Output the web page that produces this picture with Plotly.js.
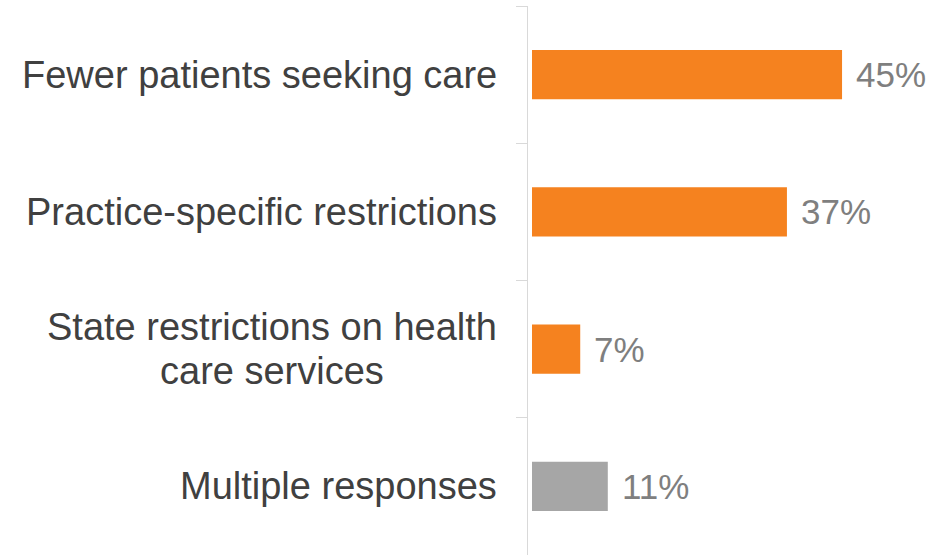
<!DOCTYPE html>
<html>
<head>
<meta charset="utf-8">
<script src="https://cdn.plot.ly/plotly-3.0.1.min.js"></script>
<style>html,body{margin:0;padding:0;background:#fff;}#chart{width:933px;height:556px;}</style>
</head>
<body>
<div id="chart"></div>
<script>
const categories = ["Fewer patients seeking care", "Practice-specific restrictions", "State restrictions on health<br>care services", "Multiple responses"];
const values = [45, 37, 7, 11];
const valueLabels = ["45%", "37%", "7%", "11%"];
const barColors = ["#F5821F", "#F5821F", "#F5821F", "#A6A6A6"];

const FONT = "Liberation Sans, Arial, sans-serif";
const CAT_SIZE = 38;
const LINE_GAP = 44;

const trace = {
  type: "bar",
  orientation: "h",
  y: categories,
  x: values,
  width: 0.36,
  marker: {color: barColors},
  hoverinfo: "none"
};

const ctx = document.createElement("canvas").getContext("2d");
ctx.font = CAT_SIZE + "px 'Liberation Sans', Arial, sans-serif";

const annotations = [];
categories.forEach((c, i) => {
  const lines = c.split("<br>");
  const maxW = Math.max.apply(null, lines.map(l => ctx.measureText(l).width));
  lines.forEach((ln, j) => {
    annotations.push({
      xref: "paper", yref: "y", x: 0, y: c,
      xanchor: "center", yanchor: "middle",
      xshift: -31 - maxW / 2,
      yshift: ((lines.length - 1) / 2 - j) * LINE_GAP,
      showarrow: false, text: ln,
      font: {family: FONT, size: CAT_SIZE, color: "#404040"}
    });
  });
  annotations.push({
    xref: "x", yref: "y", x: values[i], y: c,
    xanchor: "left", yanchor: "middle",
    xshift: 12, showarrow: false, text: valueLabels[i],
    font: {family: FONT, size: 35, color: "#7F7F7F"}
  });
});

const layout = {
  width: 933, height: 556,
  margin: {l: 528, r: 0, t: 6, b: 1},
  paper_bgcolor: "#ffffff", plot_bgcolor: "#ffffff",
  showlegend: false,
  xaxis: {visible: false, range: [-0.58, 58.2], fixedrange: true},
  yaxis: {
    type: "category", autorange: "reversed",
    showline: true, linecolor: "#D9D9D9", linewidth: 1,
    ticks: "outside", ticklen: 11, tickcolor: "#D9D9D9", tickwidth: 1,
    tickson: "boundaries", showticklabels: false, showgrid: false, zeroline: false
  },
  annotations: annotations
};

Plotly.newPlot("chart", [trace], layout, {displayModeBar: false, staticPlot: true});
</script>
</body>
</html>
